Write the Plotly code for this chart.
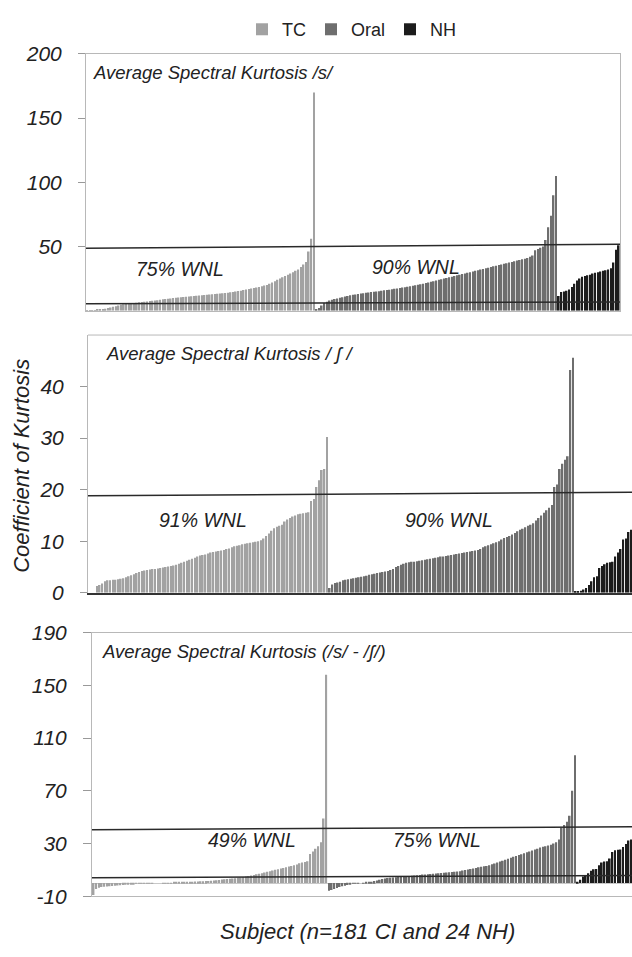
import plotly.graph_objects as go

# ---------------- data (sorted values per subject) ----------------
groups = ["TC", "Oral", "NH"]
colors = {"TC": "#a2a2a2", "Oral": "#6e6e6e", "NH": "#1c1c1c"}

s_tc = [0.2, 0.3, 0.4, 0.5, 0.6, 0.8, 1.0, 1.5, 2.0, 2.5,
        3.0, 3.5, 4.0, 4.5, 5.0, 5.2, 5.5, 5.7, 6.0, 6.2,
        6.5, 6.8, 7.0, 7.2, 7.5, 7.8, 8.0, 8.2, 8.5, 8.8,
        9.0, 9.2, 9.5, 9.8, 10.0, 10.2, 10.4, 10.6, 10.8, 11.0,
        11.2, 11.4, 11.6, 11.8, 12.0, 12.2, 12.4, 12.6, 12.8, 13.0,
        13.2, 13.4, 13.6, 13.8, 14.0, 14.3, 14.6, 15.0, 15.3, 15.6,
        16.0, 16.4, 16.8, 17.2, 17.6, 18.0, 18.5, 19.0, 19.5, 20.0,
        21.0, 22.0, 23.0, 24.0, 25.0, 26.0, 27.0, 28.0, 29.0, 30.0,
        31.0, 32.0, 34.0, 36.0, 38.0, 46.0, 56.0, 170.0]
s_oral = [1.0, 2.0, 4.0, 6.0, 7.0, 8.0, 8.5, 9.0, 9.5, 10.0,
          10.5, 11.0, 11.5, 12.0, 12.3, 12.6, 13.0, 13.3, 13.6, 14.0,
          14.2, 14.5, 14.8, 15.0, 15.2, 15.5, 15.8, 16.0, 16.3, 16.6,
          17.0, 17.3, 17.6, 18.0, 18.3, 18.6, 19.0, 19.4, 19.8, 20.2,
          20.6, 21.0, 21.5, 22.0, 22.5, 23.0, 23.5, 24.0, 24.5, 25.0,
          25.5, 26.0, 26.5, 27.0, 27.5, 28.0, 28.5, 29.0, 29.5, 30.0,
          30.5, 31.0, 31.5, 32.0, 32.5, 33.0, 33.5, 34.0, 34.5, 35.0,
          35.5, 36.0, 36.5, 37.0, 37.5, 38.0, 38.5, 39.0, 39.5, 40.0,
          40.5, 41.0, 42.0, 43.0, 47.0, 48.0, 49.0, 50.0, 55.0, 65.0,
          74.0, 90.0, 105.0]
s_nh = [11.5, 14.5, 15.0, 15.5, 16.5, 18.5, 21.0, 23.5, 25.0, 26.5,
        27.0, 27.5, 28.0, 29.0, 29.5, 30.0, 30.5, 31.0, 31.5, 32.0,
        33.0, 37.5, 47.5, 51.0]

sh_tc = [1.3, 1.5, 1.8, 2.2, 2.4, 2.4, 2.5, 2.5, 2.6, 2.7,
         2.8, 3.0, 3.2, 3.4, 3.6, 3.8, 4.0, 4.2, 4.3, 4.4,
         4.5, 4.6, 4.6, 4.7, 4.8, 4.9, 5.0, 5.1, 5.2, 5.3,
         5.4, 5.6, 5.8, 6.0, 6.2, 6.4, 6.6, 6.8, 7.0, 7.2,
         7.3, 7.4, 7.6, 7.8, 7.9, 8.0, 8.1, 8.2, 8.3, 8.5,
         8.6, 8.8, 9.0, 9.1, 9.2, 9.4, 9.5, 9.6, 9.7, 9.8,
         9.9, 10.0, 10.2, 10.5, 11.0, 11.5, 12.0, 12.5, 12.8, 13.0,
         13.2, 13.8, 14.2, 14.5, 14.8, 15.0, 15.2, 15.3, 15.4, 15.5,
         15.6, 17.8, 18.2, 20.5, 21.8, 23.8, 24.0, 30.2]
sh_oral = [0.9, 1.6, 1.9, 2.0, 2.1, 2.4, 2.5, 2.6, 2.7, 2.8,
           2.9, 3.0, 3.1, 3.2, 3.3, 3.5, 3.6, 3.7, 3.8, 3.9,
           4.0, 4.1, 4.2, 4.4, 4.6, 5.0, 5.2, 5.4, 5.6, 5.8,
           5.9, 6.0, 6.0, 6.1, 6.2, 6.3, 6.4, 6.5, 6.6, 6.7,
           6.8, 6.9, 7.0, 7.0, 7.1, 7.2, 7.3, 7.4, 7.5, 7.6,
           7.7, 7.8, 7.9, 8.0, 8.1, 8.2, 8.3, 8.5, 8.8, 9.0,
           9.2, 9.4, 9.6, 9.8, 10.0, 10.3, 10.6, 10.8, 11.0, 11.3,
           11.6, 11.9, 12.2, 12.4, 12.7, 13.0, 13.2, 13.5, 14.0, 14.5,
           15.0, 15.5, 16.0, 16.5, 17.0, 20.5, 21.0, 24.0, 25.0, 25.8,
           26.5, 43.2, 45.6]
sh_nh = [0.2, 0.3, 0.4, 0.6, 0.9, 1.5, 2.2, 3.0, 3.2, 4.8,
         5.2, 5.5, 5.8, 5.9, 6.0, 7.0, 7.8, 8.5, 10.3, 10.5,
         11.8, 12.2, 13.0, 15.0]

d_tc = [-9.0, -4.5, -3.5, -3.0, -2.8, -2.6, -2.4, -2.2, -2.0, -1.8,
        -1.6, -1.4, -1.2, -1.0, -0.8, -0.6, -0.5, -0.4, -0.3, -0.2,
        -0.2, -0.1, -0.1, 0.0, 0.0, 0.0, 0.1, 0.1, 0.2, 0.2,
        0.3, 0.4, 0.5, 0.6, 0.7, 0.8, 0.9, 1.0, 1.1, 1.2,
        1.3, 1.4, 1.5, 1.6, 1.8, 2.0, 2.2, 2.4, 2.6, 2.8,
        3.0, 3.2, 3.4, 3.7, 4.0, 4.3, 4.6, 5.0, 5.4, 5.8,
        6.2, 6.6, 7.0, 7.5, 8.0, 8.5, 9.0, 9.5, 10.0, 10.5,
        11.0, 11.5, 12.0, 12.5, 13.0, 13.5, 14.0, 15.0, 15.5, 16.0,
        16.5, 22.0, 24.0, 26.0, 28.0, 31.0, 49.0, 158.0]
d_oral = [-5.8, -5.2, -4.5, -3.8, -3.0, -2.5, -2.0, -1.5, -1.0, -0.5,
          -0.3, -0.1, 0.0, 0.2, 0.4, 0.6, 1.0, 1.5, 2.0, 2.5,
          3.0, 3.4, 3.8, 4.0, 4.2, 4.4, 4.6, 4.8, 5.0, 5.2,
          5.4, 5.6, 5.8, 6.0, 6.2, 6.4, 6.5, 6.6, 6.8, 7.0,
          7.2, 7.4, 7.6, 7.8, 8.0, 8.2, 8.4, 8.6, 8.8, 9.0,
          9.5, 9.9, 10.3, 10.7, 11.1, 11.5, 11.9, 12.3, 12.7, 13.0,
          13.5, 14.2, 14.9, 15.6, 16.3, 17.0, 17.7, 18.4, 19.2, 20.0,
          20.5, 21.2, 21.9, 22.6, 23.3, 24.0, 24.7, 25.4, 26.1, 27.0,
          27.5, 28.0, 28.5, 29.0, 30.0, 31.0, 33.0, 42.0, 44.0, 46.5,
          51.0, 70.0, 97.0]
d_nh = [1.0, 2.5, 5.0, 6.0, 7.4, 9.4, 10.4, 10.6, 13.6, 15.6,
        16.4, 16.6, 18.6, 23.5, 24.8, 25.2, 25.4, 27.3, 29.7, 32.2,
        33.0, 35.0, 38.0, 45.0]

panel_titles = ["Average Spectral Kurtosis /s/",
                "Average Spectral Kurtosis / ʃ /",
                "Average Spectral Kurtosis (/s/ - /ʃ/)"]
wnl_labels = [("75% WNL", "90% WNL"), ("91% WNL", "90% WNL"), ("49% WNL", "75% WNL")]
yticks = [[50, 100, 150, 200], [0, 10, 20, 30, 40], [-10, 30, 70, 110, 150, 190]]
yticktext = [["50", "100", "150", "200"], ["0", "10", "20", "30", "40"],
             ["-10", "30", "70", "110", "150", "190"]]
# threshold lines (left value, right value) per panel
thresholds = [[(48.7, 51.7), (5.3, 6.8)], [(18.8, 19.5)], [(40.5, 42.7), (4.1, 5.8)]]

panels = [
    {"TC": s_tc, "Oral": s_oral, "NH": s_nh},
    {"TC": sh_tc, "Oral": sh_oral, "NH": sh_nh},
    {"TC": d_tc, "Oral": d_oral, "NH": d_nh},
]

W, H = 632, 957
def px(x): return x / W
def py(y): return 1 - y / H

fig = go.Figure()

for p, data in enumerate(panels):
    suffix = "" if p == 0 else str(p + 1)
    start = 0
    for g in groups:
        vals = data[g]
        xs = list(range(start, start + len(vals)))
        start += len(vals)
        fig.add_trace(go.Bar(
            x=xs, y=vals, name=g, width=0.62,
            marker=dict(color=colors[g], line=dict(width=0)),
            xaxis="x" + suffix, yaxis="y" + suffix,
            showlegend=(p == 0), hoverinfo="skip"))

tickfont = dict(family="Liberation Sans, Arial", size=21, color="#222", style="italic")
axis_gray = "#b8b8b8"

layout = dict(
    width=W, height=H, autosize=False,
    margin=dict(l=0, r=0, t=0, b=0),
    paper_bgcolor="white", plot_bgcolor="white",
    barmode="overlay",
    font=dict(family="Liberation Sans, Arial", color="#222"),
    legend=dict(orientation="h", x=px(352), xanchor="center", y=py(18), yanchor="middle",
                font=dict(size=18, color="#222"), itemwidth=30, bgcolor="rgba(0,0,0,0)",
                tracegroupgap=0, itemclick=False),
    # top panel
    xaxis=dict(domain=[px(86), px(620)], range=[-0.5, 204.5], showticklabels=False, ticks="",
               showgrid=False, zeroline=False, showline=True, linecolor=axis_gray, mirror=True,
               anchor="y", fixedrange=True),
    yaxis=dict(domain=[py(306), py(43)], range=[0, 200], tickvals=yticks[0], ticktext=yticktext[0],
               ticks="outside", ticklen=7, tickcolor="#999", tickfont=tickfont, ticklabelstandoff=12,
               showgrid=False, zeroline=False, showline=True, linecolor=axis_gray, mirror=True,
               anchor="x", fixedrange=True),
    # middle panel
    xaxis2=dict(domain=[px(88), 1.0], range=[-3.4, 202.3], showticklabels=False, ticks="",
                showgrid=False, zeroline=False, showline=True, linecolor="#333", linewidth=1.5,
                anchor="y2", fixedrange=True),
    yaxis2=dict(domain=[py(595), py(331)], range=[0, 50], tickvals=yticks[1], ticktext=yticktext[1],
                ticks="outside", ticklen=7, tickcolor="#999", tickfont=tickfont, ticklabelstandoff=12,
                showgrid=False, zeroline=False, showline=True, linecolor=axis_gray,
                anchor="x2", fixedrange=True),
    # bottom panel
    xaxis3=dict(domain=[px(92), 1.0], range=[-0.6, 201.3], showticklabels=False, ticks="",
                showgrid=False, zeroline=False, showline=True, linecolor=axis_gray, mirror=True,
                anchor="y3", fixedrange=True),
    yaxis3=dict(domain=[py(906), py(636)], range=[-10, 190], tickvals=yticks[2], ticktext=yticktext[2],
                ticks="outside", ticklen=8, tickcolor="#999", tickfont=tickfont, ticklabelstandoff=12,
                showgrid=False, zeroline=True, zerolinecolor="#c8c8c8", zerolinewidth=1,
                showline=True, linecolor=axis_gray, anchor="x3", fixedrange=True),
)
fig.update_layout(**layout)

shapes = []
# top border of middle panel
shapes.append(dict(type="line", xref="x2 domain", yref="y2 domain", x0=0, x1=1, y0=1, y1=1,
                   line=dict(color=axis_gray, width=1)))
for p, lines in enumerate(thresholds):
    suffix = "" if p == 0 else str(p + 1)
    for (a, b) in lines:
        shapes.append(dict(type="line", xref="x" + suffix + " domain", yref="y" + suffix,
                           x0=0, x1=1, y0=a, y1=b, line=dict(color="#2a2a2a", width=1.5),
                           layer="above"))
fig.update_layout(shapes=shapes)

title_font = dict(family="Liberation Sans, Arial", size=18.5, color="#222", style="italic")
wnl_font = dict(family="Liberation Sans, Arial", size=19.5, color="#222", style="italic")
title_pos = [(91, 62), (104, 350), (100, 655)]
wnl_pos = [((180, 263), (416, 261)), ((203, 520), (449, 520)), ((252, 848), (437, 848))]

ann = []
for i in range(3):
    ann.append(dict(text=panel_titles[i], xref="paper", yref="paper",
                    x=px(title_pos[i][0]), y=py(title_pos[i][1]), xanchor="left", yanchor="middle",
                    showarrow=False, font=title_font))
    for lab, pos in zip(wnl_labels[i], wnl_pos[i]):
        ann.append(dict(text=lab, xref="paper", yref="paper", x=px(pos[0]), y=py(pos[1]),
                        xanchor="center", yanchor="middle", showarrow=False, font=wnl_font))
ann.append(dict(text="Subject (n=181 CI and 24 NH)", xref="paper", yref="paper",
                x=px(367), y=py(942), xanchor="center", yanchor="middle", showarrow=False,
                font=dict(family="Liberation Sans, Arial", size=22, color="#222", style="italic")))
ann.append(dict(text="Coefficient of Kurtosis", xref="paper", yref="paper",
                x=px(22), y=py(465), xanchor="center", yanchor="middle", showarrow=False,
                textangle=-90,
                font=dict(family="Liberation Sans, Arial", size=22, color="#222", style="italic")))
fig.update_layout(annotations=ann)

fig.write_html("out.html", config={"displayModeBar": False})
